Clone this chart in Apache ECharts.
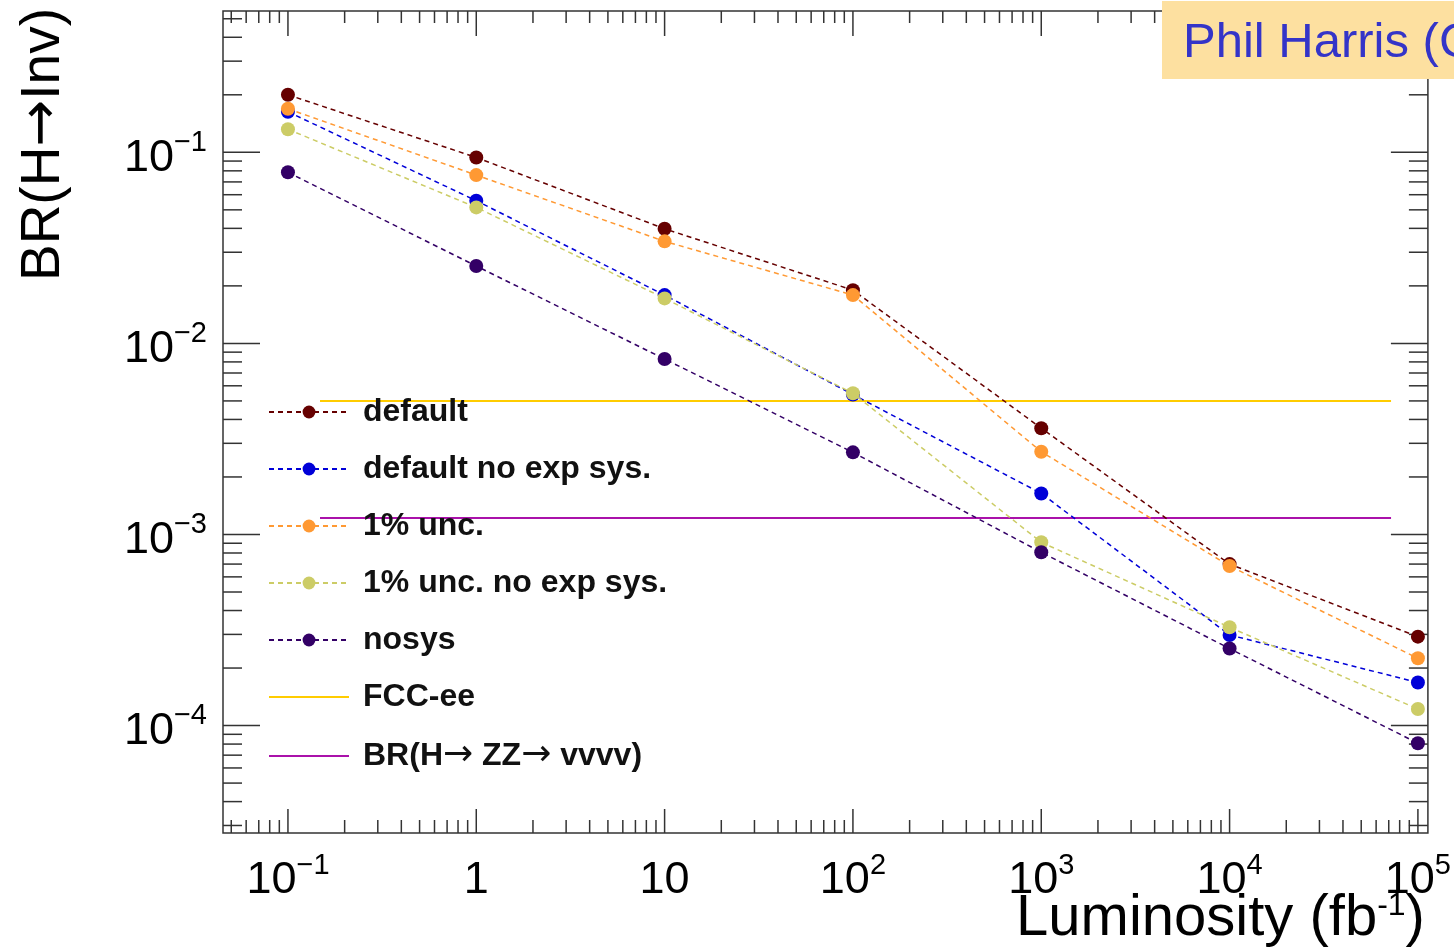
<!DOCTYPE html>
<html>
<head>
<meta charset="utf-8">
<script src="https://cdn.jsdelivr.net/npm/echarts@6/dist/echarts.min.js"></script>
<style>
html, body { margin: 0; padding: 0; background: #ffffff; }
#chart { width: 1454px; height: 951px; }
</style>
</head>
<body>
<div id="chart"></div>
<script>
// ---------------- data ----------------
const luminosity = [0.1, 1, 10, 100, 1000, 10000, 100000];
const brDefault      = [0.200, 0.094, 0.0398, 0.0190, 0.00360, 0.000700, 0.000292];
const brNoExpSys     = [0.163, 0.0558, 0.0179, 0.00540, 0.00164, 0.000298, 0.000168];
const brUnc1         = [0.169, 0.0760, 0.0342, 0.0179, 0.00271, 0.000684, 0.000225];
const brUnc1NoExpSys = [0.132, 0.0515, 0.0172, 0.00548, 0.000910, 0.000327, 0.000122];
const brNoSys        = [0.0786, 0.0254, 0.00828, 0.00269, 0.000807, 0.000253, 0.0000808];

const fccLimit = 0.005;
const zzLimit = 0.00122;
const limitRange = [0.148, 72000];

const seriesNames = ['default', 'default no exp sys.', '1% unc.', '1% unc. no exp sys.', 'nosys', 'FCC-ee', 'BR(H\u2192 ZZ\u2192 vvvv)'];
const xTitle = 'Luminosity (fb';
const xTitleSup = '-1';
const yTitleParts = ['BR(H', '\u2192', 'Inv)'];
const noteText = 'Phil Harris (C';

const xDecades = [0.1, 1, 10, 100, 1000, 10000, 100000];
const yDecades = [0.0001, 0.001, 0.01, 0.1];
const xRange = [0.0452, 113000];
const yRange = [0.0000274, 0.549];

// ---------------- helpers ----------------
const FONT = '"Liberation Sans", Arial, Helvetica, sans-serif';
const ARROW_FONT = '"DejaVu Sans", sans-serif';
function pairs(xs, ys) { return xs.map((x, i) => [x, ys[i]]); }
function minorTicks(range, eMin, eMax) {
  const out = [];
  for (let e = eMin; e <= eMax; e++) {
    for (let m = 2; m <= 9; m++) {
      const v = m * Math.pow(10, e);
      if (v >= range[0] && v <= range[1]) out.push(v);
    }
  }
  return out;
}
const xMinor = minorTicks(xRange, -2, 5);
const yMinor = minorTicks(yRange, -5, -1);
const xRef = 1, yRef = 0.001;
const xTickData = xDecades.map(v => [v, yRef, 1]).concat(xMinor.map(v => [v, yRef, 0]));
const yTickData = yDecades.map(v => [xRef, v, 1]).concat(yMinor.map(v => [xRef, v, 0]));
const TICK = '#333';

function logLabel(value, plainSmall) {
  const l = Math.log10(value);
  const e = Math.round(l);
  if (Math.abs(l - e) > 1e-6) return '';
  if (plainSmall && e === 0) return '{b|1}';
  if (plainSmall && e === 1) return '{b|10}';
  return '{b|10}{sup|' + (e < 0 ? '\u2212' : '') + Math.abs(e) + '}';
}
const labelRich = {
  b: { fontFamily: FONT, fontSize: 45, lineHeight: 60, color: '#000' },
  sup: { fontFamily: FONT, fontSize: 29, lineHeight: 29, verticalAlign: 'top', color: '#000' }
};

const colors = ['#660000', '#0000d8', '#ff9933', '#cccc66', '#330066', '#ffcc00', '#aa11aa'];
const valueSets = [brDefault, brNoExpSys, brUnc1, brUnc1NoExpSys, brNoSys];

const series = valueSets.map((vals, i) => ({
  name: seriesNames[i],
  type: 'line',
  data: pairs(luminosity, vals),
  symbol: 'circle',
  symbolSize: 14,
  itemStyle: { color: colors[i] },
  lineStyle: { color: colors[i], width: 1.5, type: [5, 4] },
  z: 3 + i
}));
series.push({
  name: seriesNames[5], type: 'line', symbol: 'none',
  data: [[limitRange[0], fccLimit], [limitRange[1], fccLimit]],
  itemStyle: { color: colors[5] },
  lineStyle: { color: colors[5], width: 2, type: 'solid' }, z: 2
});
series.push({
  name: seriesNames[6], type: 'line', symbol: 'none',
  data: [[limitRange[0], zzLimit], [limitRange[1], zzLimit]],
  itemStyle: { color: colors[6] },
  lineStyle: { color: colors[6], width: 2, type: 'solid' }, z: 2
});
// axis ticks (ROOT style, on all four sides)
series.push({
  type: 'custom', silent: true, z: 1,
  encode: { x: 0, y: 1 },
  data: xTickData,
  renderItem: function (params, api) {
    const cs = params.coordSys;
    const x = api.coord([api.value(0), yRef])[0];
    const major = api.value(2) === 1;
    const bot = cs.y + cs.height, top = cs.y;
    const lb = major ? 24 : 13, lt = major ? 25 : 12;
    return { type: 'group', children: [
      { type: 'line', shape: { x1: x, y1: bot, x2: x, y2: bot - lb }, style: { stroke: TICK, lineWidth: 1.5 } },
      { type: 'line', shape: { x1: x, y1: top, x2: x, y2: top + lt }, style: { stroke: TICK, lineWidth: 1.5 } }
    ] };
  }
});
series.push({
  type: 'custom', silent: true, z: 1,
  encode: { x: 0, y: 1 },
  data: yTickData,
  renderItem: function (params, api) {
    const cs = params.coordSys;
    const y = api.coord([xRef, api.value(1)])[1];
    const major = api.value(2) === 1;
    const l = cs.x, r = cs.x + cs.width;
    const len = major ? 37 : 19;
    return { type: 'group', children: [
      { type: 'line', shape: { x1: l, y1: y, x2: l + len, y2: y }, style: { stroke: TICK, lineWidth: 1.5 } },
      { type: 'line', shape: { x1: r, y1: y, x2: r - len, y2: y }, style: { stroke: TICK, lineWidth: 1.5 } }
    ] };
  }
});

const option = {
  animation: false,
  backgroundColor: '#ffffff',
  textStyle: { fontFamily: FONT },
  grid: { left: 223, top: 11, width: 1205, height: 822, show: true, borderColor: '#333', borderWidth: 1.5, backgroundColor: 'transparent' },
  xAxis: {
    type: 'log', logBase: 10, min: xRange[0], max: xRange[1],
    axisLine: { show: false }, axisTick: { show: false }, splitLine: { show: false }, minorTick: { show: false },
    axisLabel: {
      show: true, margin: 18, showMinLabel: false, showMaxLabel: false,
      formatter: v => logLabel(v, true), rich: labelRich
    },
    name: '{n|' + xTitle + '}{s|' + xTitleSup + '}{n|)}',
    nameLocation: 'end', nameGap: -3, nameMoveOverlap: false,
    nameTextStyle: {
      align: 'right', verticalAlign: 'top', padding: [57, 0, 0, 0],
      rich: {
        n: { fontFamily: FONT, fontSize: 58, lineHeight: 58, color: '#000' },
        s: { fontFamily: FONT, fontSize: 32, lineHeight: 32, verticalAlign: 'top', color: '#000' }
      }
    }
  },
  yAxis: {
    type: 'log', logBase: 10, min: yRange[0], max: yRange[1],
    axisLine: { show: false }, axisTick: { show: false }, splitLine: { show: false }, minorTick: { show: false },
    axisLabel: {
      show: true, margin: 16, showMinLabel: false, showMaxLabel: false, padding: [12, 0, 0, 0],
      formatter: v => logLabel(v, false), rich: labelRich
    },
    name: '{t|' + yTitleParts[0] + '}{a|' + yTitleParts[1] + '}{t|' + yTitleParts[2] + '}',
    nameLocation: 'end', nameRotate: 90, nameGap: 3, nameMoveOverlap: false,
    nameTextStyle: {
      align: 'right', verticalAlign: 'bottom', padding: [0, 0, 152, 0],
      rich: {
        t: { fontFamily: FONT, fontSize: 55, lineHeight: 55, color: '#000' },
        a: { fontFamily: ARROW_FONT, fontSize: 56, lineHeight: 55, color: '#000' }
      }
    }
  },
  legend: {
    orient: 'vertical', left: 268, top: 396, padding: 0,
    itemWidth: 80, itemHeight: 16, itemGap: 25,
    formatter: name => name.replace(/\u2192/g, '{a|\u2192}'),
    textStyle: {
      fontFamily: FONT, fontSize: 32, fontWeight: 'bold', color: '#111', lineHeight: 32, padding: [0, 0, 0, 9],
      rich: { a: { fontFamily: ARROW_FONT, fontSize: 36, fontWeight: 'normal', color: '#111', lineHeight: 32 } }
    },
    data: [
      seriesNames[0], seriesNames[1], seriesNames[2], seriesNames[3], seriesNames[4],
      { name: seriesNames[5], itemStyle: { opacity: 0 } },
      { name: seriesNames[6], itemStyle: { opacity: 0 } }
    ]
  },
  graphic: [
    { type: 'rect', z: 100, shape: { x: 1162, y: 1, width: 300, height: 78 }, style: { fill: '#fde0a0' } },
    { type: 'text', z: 101, x: 1183, y: 43, style: { text: noteText, font: '49px ' + FONT, fill: '#3434c8', align: 'left', verticalAlign: 'middle' } }
  ],
  series: series
};

const chart = echarts.init(document.getElementById('chart'), null, { renderer: 'canvas' });
chart.setOption(option);
</script>
</body>
</html>
